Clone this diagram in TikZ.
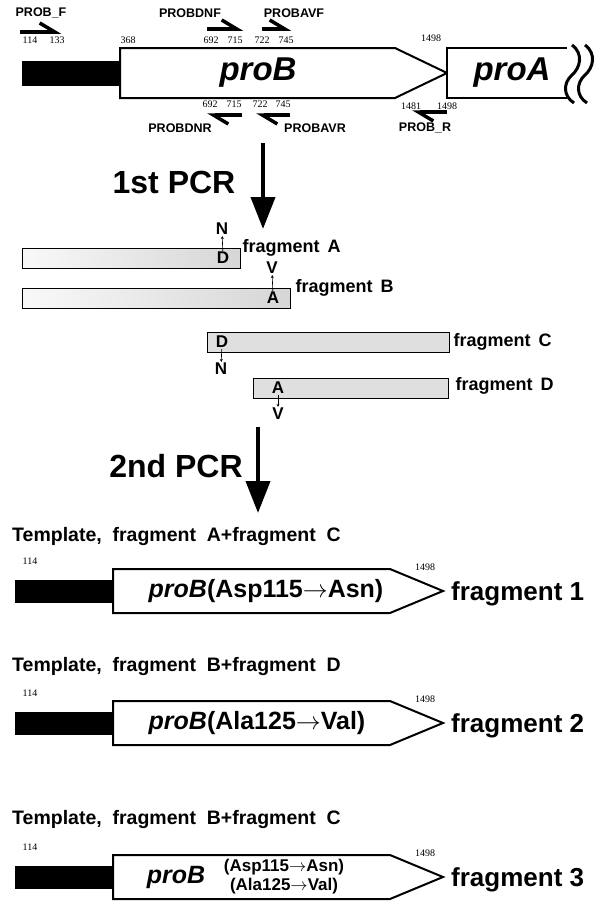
\documentclass[tikz,border=0pt]{standalone}
\usepackage{fontspec}
\setmainfont{Liberation Sans}
\newfontfamily\numfont{Liberation Serif}
\usetikzlibrary{positioning,arrows.meta}

\begin{document}
\begin{tikzpicture}[x=1pt, y=-1pt]
            \tikzstyle{num} = [font=\numfont\fontsize{10}{12}\selectfont, inner sep=0pt]
            \tikzstyle{plabel} = [font=\bfseries\fontsize{12.5}{14}\selectfont, inner sep=0pt]
            \tikzstyle{primer} = [line width=3.5pt, -{Straight Barb[left, length=15pt, width=18pt]}]
            \tikzstyle{gene} = [draw, line width=2pt, fill=white]
            \tikzstyle{gname} = [font=\bfseries\itshape\fontsize{33}{36}\selectfont, inner sep=0pt]
            \tikzstyle{frag} = [draw, line width=0.9pt, minimum height=20pt, inner sep=0pt]
            \tikzstyle{res} = [font=\bfseries\fontsize{17}{18}\selectfont, inner sep=1pt]
            \tikzstyle{mut} = [line width=0.6pt, -{Stealth[length=3pt, width=3pt]}]
            \tikzstyle{flabel} = [font=\bfseries\fontsize{18}{20}\selectfont, inner sep=0pt]
            \tikzstyle{pcr} = [line width=4pt, -{Triangle[length=32pt, width=24pt]}]
            \tikzstyle{pcrlabel} = [font=\bfseries\fontsize{32}{36}\selectfont, inner sep=0pt]
            \tikzstyle{tmpl} = [font=\bfseries\fontsize{19.5}{22}\selectfont, inner sep=0pt, anchor=west]
            \tikzstyle{mtext} = [font=\bfseries\fontsize{25}{28}\selectfont, inner sep=0pt]
            \tikzstyle{product} = [font=\bfseries\fontsize{26}{28}\selectfont, inner sep=0pt, anchor=west]
            \useasboundingbox (0,0) rectangle (599,910);

            % genomic region with primers
            \fill (22,61) rectangle (120,86);
            \draw[gene] (120,48) -- (395,48) -- (447,73) -- (395,98) -- (120,98) -- cycle;
            \node[gname] (gB) at (258,73) {proB};
            \draw[gene] (567,48) -- (447,48) -- (447,98) -- (567,98);
            \node[gname] (gA) at (512,73) {proA};
            \draw[line width=3pt] (572,45) .. controls (584,54) and (580,68) .. (572,75)
                .. controls (563,83) and (563,96) .. (574,103);
            \draw[line width=3pt] (585,45) .. controls (597,54) and (593,68) .. (585,75)
                .. controls (576,83) and (576,96) .. (587,103);

            \node[plabel] (lF) at (41,13) {PROB\_F};
            \node[plabel] (lDNF) at (190,13) {PROBDNF};
            \node[plabel] (lAVF) at (294,13) {PROBAVF};
            \node[plabel] (lDNR) at (180,128) {PROBDNR};
            \node[plabel] (lAVR) at (315,128) {PROBAVR};
            \node[plabel] (lR) at (425,128) {PROB\_R};

            \coordinate (F0) at (20,32);   \coordinate (F1) at (61,32);
            \coordinate (DNF0) at (207,29); \coordinate (DNF1) at (243,29);
            \coordinate (AVF0) at (262,29); \coordinate (AVF1) at (291,29);
            \coordinate (DNR0) at (242,115); \coordinate (DNR1) at (207,115);
            \coordinate (AVR0) at (290,115); \coordinate (AVR1) at (256,115);
            \coordinate (R0) at (447,112);  \coordinate (R1) at (412,112);
            \foreach \p in {F, DNF, AVF, DNR, AVR, R}
                \draw[primer] (\p0) to (\p1);

            \node[num] (n114) at (30,40) {114};
            \node[num] (n133) at (57,40) {133};
            \node[num] (n368) at (128,40) {368};
            \node[num] (n692) at (211,40) {692};
            \node[num] (n715) at (235,40) {715};
            \node[num] (n722) at (262,40) {722};
            \node[num] (n745) at (286,40) {745};
            \node[num] (n1498) at (431,38) {1498};
            \node[num] (m692) at (210,104) {692};
            \node[num] (m715) at (234,104) {715};
            \node[num] (m722) at (260,104) {722};
            \node[num] (m745) at (283,104) {745};
            \node[num] (m1481) at (411,106) {1481};
            \node[num] (m1498) at (447,106) {1498};

            % first PCR
            \coordinate (P1a) at (263,143);
            \coordinate (P1b) at (263,229);
            \draw[pcr] (P1a) to (P1b);
            \node[pcrlabel] (pcr1) at (174,182) {1st PCR};

            \node[frag, minimum width=218pt, left color=gray!5, right color=gray!32] (fA) at (131,258) {};
            \node[frag, minimum width=268pt, left color=gray!5, right color=gray!32] (fB) at (156,298) {};
            \node[frag, minimum width=242pt, fill=gray!25] (fC) at (328,342) {};
            \node[frag, minimum width=195pt, fill=gray!25] (fD) at (350.5,388) {};

            \node[flabel, right = 2pt of fA.north east] (lA) {fragment\hspace{0.45em}A};
            \node[flabel, right = 5pt of fB.north east] (lB) {fragment\hspace{0.45em}B};
            \node[flabel, right = 4pt of fC] (lC) {fragment\hspace{0.45em}C};
            \node[flabel, right = 7pt of fD, yshift=2pt] (lD) {fragment\hspace{0.45em}D};

            \node[res] (rA) at (223,258) {D};
            \node[res] (xA) at (222,229) {N};
            \node[res] (rB) at (273,298) {A};
            \node[res] (xB) at (272,268) {V};
            \node[res] (rC) at (222,342) {D};
            \node[res] (xC) at (221,369) {N};
            \node[res] (rD) at (278,388) {A};
            \node[res] (xD) at (278,414) {V};
            \foreach \i in {A, B, C, D}
                \draw[mut] (r\i) to (x\i);

            % second PCR
            \coordinate (P2a) at (258,427);
            \coordinate (P2b) at (258,513);
            \draw[pcr] (P2a) to (P2b);
            \node[pcrlabel] (pcr2) at (176,466) {2nd PCR};

            \node[tmpl] (t1) at (12,536) {Template,\ \ fragment\ \ A+fragment\ \ C};
            \node[tmpl] (t2) at (12,666) {Template,\ \ fragment\ \ B+fragment\ \ D};
            \node[tmpl] (t3) at (12,819) {Template,\ \ fragment\ \ B+fragment\ \ C};

            \foreach \m/\n in {591/1, 723/2, 877/3} {
                \fill (15,\m-11.5) rectangle (113,\m+11.5);
                \draw[gene] (113,\m-22) -- (390,\m-22) -- (443,\m) -- (390,\m+22) -- (113,\m+22) -- cycle;
                \node[num] (s\n) at (30,\m-30) {114};
                \node[num] (e\n) at (425,\m-24) {1498};
                \node[product] (p\n) at (451,\m+3) {fragment \n};
            }

            \node[mtext] (g1) at (266,591) {\textit{proB}(Asp115$\rightarrow$Asn)};
            \node[mtext] (g2) at (257,723) {\textit{proB}(Ala125$\rightarrow$Val)};
            \node[gname, font=\bfseries\itshape\fontsize{25}{28}\selectfont] (g3) at (176,877) {proB};
            \node[font=\bfseries\fontsize{17}{18}\selectfont, inner sep=0pt, align=center] (g3m) at (284,877)
                {(Asp115$\rightarrow$Asn)\\[1pt](Ala125$\rightarrow$Val)};
\end{tikzpicture}
\end{document}
